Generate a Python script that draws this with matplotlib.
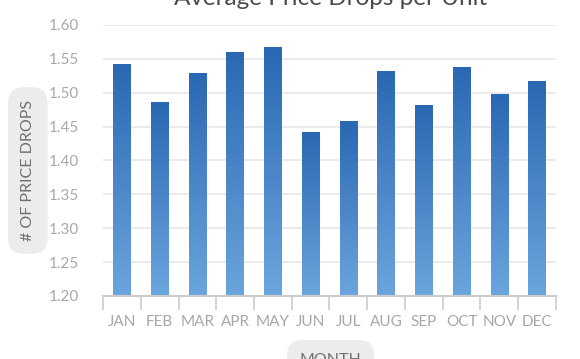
import numpy as np
import matplotlib
matplotlib.use("Agg")
import matplotlib.pyplot as plt
from matplotlib.colors import LinearSegmentedColormap

# dedomena tou chart
months = ['JAN', 'FEB', 'MAR', 'APR', 'MAY', 'JUN', 'JUL', 'AUG', 'SEP', 'OCT', 'NOV', 'DEC']
price_drops = [1.541, 1.485, 1.528, 1.560, 1.566, 1.442, 1.458, 1.531, 1.481, 1.537, 1.497, 1.517]
y_ticks = [1.20, 1.25, 1.30, 1.35, 1.40, 1.45, 1.50, 1.55, 1.60]

plt.rcParams['font.family'] = ['Lato', 'DejaVu Sans']

fig = plt.figure(figsize=(5.8, 3.59), dpi=100)
ax = fig.add_axes([0.1776, 0.1755, 0.781, 0.755])

grad = LinearSegmentedColormap.from_list('bars', ['#6ba5dd', '#2a68b3'])
ramp = np.linspace(0, 1, 256).reshape(-1, 1)

bar_w = 0.46
x = np.arange(len(months))
for xi, val in zip(x, price_drops):
    ax.imshow(ramp, cmap=grad, origin='lower', aspect='auto',
              extent=[xi - bar_w / 2, xi + bar_w / 2, y_ticks[0], val], zorder=3)

ax.set_xlim(-0.5, len(months) - 0.5)
ax.set_ylim(y_ticks[0], y_ticks[-1])

ax.set_yticks(y_ticks)
ax.set_yticklabels([f"{t:.2f}" for t in y_ticks], color='#a8a8a8', fontsize=11)
ax.tick_params(axis='y', length=0, pad=17)
ax.grid(axis='y', color='#e8e8e8', linewidth=1.2, zorder=0)

# x ticks sta oria, labels sto kentro
ax.set_xticks(np.arange(len(months) + 1) - 0.5)
ax.set_xticklabels([])
ax.set_xticks(x, minor=True)
ax.set_xticklabels(months, minor=True, color='#a8a8a8', fontsize=11)
ax.tick_params(axis='x', which='major', length=10, color='#cccccc', width=1.2)
ax.tick_params(axis='x', which='minor', length=0, pad=14)

for s in ['top', 'right', 'left']:
    ax.spines[s].set_visible(False)
ax.spines['bottom'].set_color('#cccccc')
ax.spines['bottom'].set_linewidth(1.5)
ax.spines['bottom'].set_zorder(4)

fig.text(0.57, 1.003, 'Average Price Drops per Unit', ha='center', va='center',
         fontsize=17.5, color='#4a4a4a')
fig.text(0.048, 0.525, '# OF PRICE DROPS', rotation=90, ha='center', va='center',
         fontsize=11.5, color='#707070',
         bbox=dict(boxstyle='round,pad=0.8,rounding_size=1.0', fc='#ececec', ec='none'))
fig.text(0.57, -0.002, 'MONTH', ha='center', va='center', fontsize=11.5, color='#707070',
         bbox=dict(boxstyle='round,pad=0.8,rounding_size=1.0', fc='#ececec', ec='none'))

fig.savefig('out.png', dpi=100)
